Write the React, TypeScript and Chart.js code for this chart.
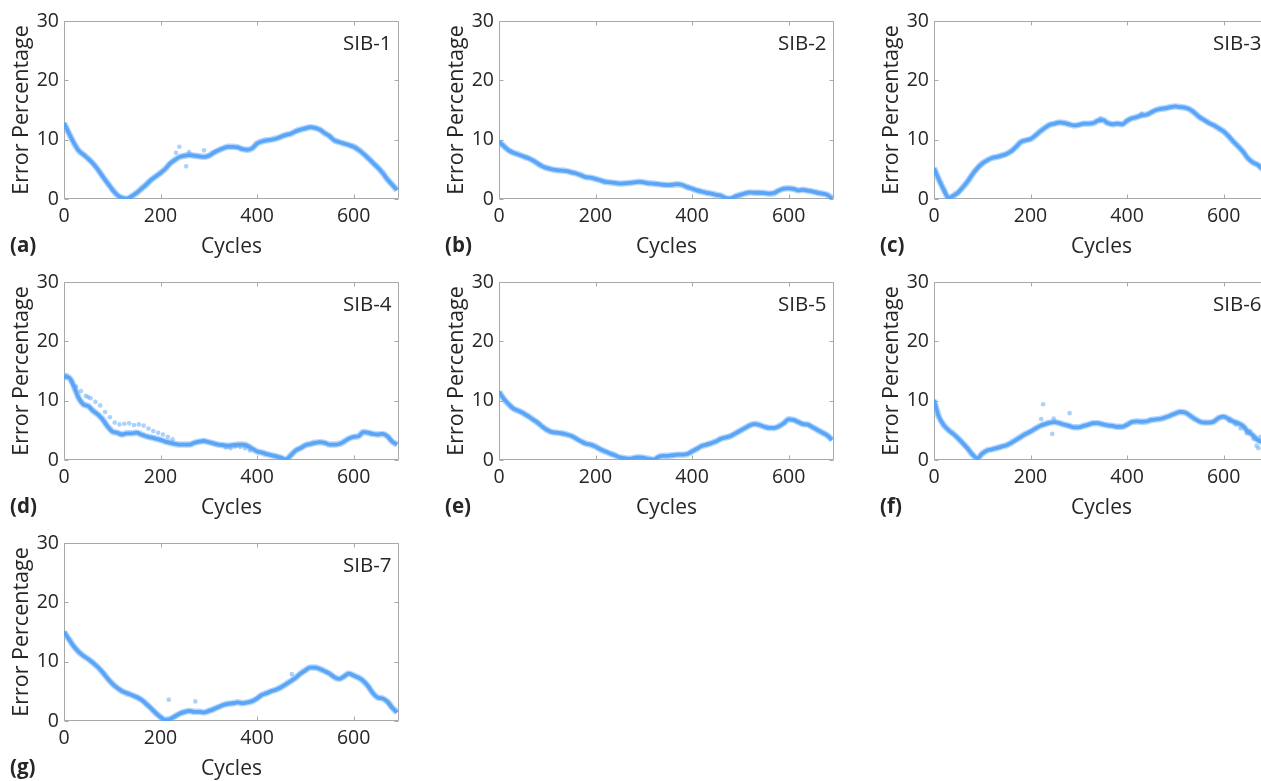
import React, { useEffect, useRef } from "react";
import { Chart, registerables } from "chart.js";

Chart.register(...registerables);

// ---- data ----
const CYCLES = [
  0, 10, 20, 30, 40, 50, 60, 70, 80, 90,
  100, 110, 120, 130, 140, 150, 160, 170, 180, 190,
  200, 210, 220, 230, 240, 250, 260, 270, 280, 290,
  300, 310, 320, 330, 340, 350, 360, 370, 380, 390,
  400, 410, 420, 430, 440, 450, 460, 470, 480, 490,
  500, 510, 520, 530, 540, 550, 560, 570, 580, 590,
  600, 610, 620, 630, 640, 650, 660, 670, 680, 690,
];

const SIB1 = [
  12.8, 11.1, 9.5, 8.2, 7.5, 6.8, 6.0, 5.0, 3.8, 2.7,
  1.6, 0.7, 0.2, 0.05, 0.45, 1.0, 1.7, 2.4, 3.2, 3.8,
  4.4, 5.1, 6.0, 6.6, 7.1, 7.3, 7.4, 7.3, 7.2, 7.1,
  7.3, 7.8, 8.2, 8.55, 8.8, 8.8, 8.7, 8.4, 8.3, 8.55,
  9.35, 9.7, 9.9, 10.0, 10.2, 10.5, 10.8, 11.0, 11.4, 11.7,
  11.9, 12.1, 12.0, 11.7, 11.1, 10.6, 9.9, 9.6, 9.35, 9.1,
  8.8, 8.3, 7.65, 6.9, 6.1, 5.3, 4.4, 3.3, 2.4, 1.5,
];
const SIB2 = [
  9.7, 8.9, 8.2, 7.8, 7.5, 7.2, 6.9, 6.5, 6.0, 5.5,
  5.2, 5.0, 4.85, 4.8, 4.7, 4.5, 4.3, 4.0, 3.7, 3.6,
  3.4, 3.15, 2.9, 2.8, 2.7, 2.6, 2.65, 2.7, 2.8, 2.9,
  2.8, 2.65, 2.6, 2.5, 2.4, 2.35, 2.4, 2.5, 2.35, 2.0,
  1.75, 1.45, 1.25, 1.05, 0.9, 0.7, 0.55, 0.15, 0.1, 0.45,
  0.7, 0.95, 1.1, 1.05, 1.05, 1.0, 0.9, 1.0, 1.45, 1.75,
  1.8, 1.7, 1.45, 1.55, 1.4, 1.25, 1.05, 0.9, 0.7, 0.1,
];
const SIB3 = [
  5.2, 3.3, 1.6, 0.2, 0.55, 1.1, 2.0, 3.0, 4.2, 5.2,
  6.0, 6.5, 6.9, 7.1, 7.3, 7.6, 8.05, 8.8, 9.6, 9.9,
  10.1, 10.7, 11.4, 12.0, 12.5, 12.7, 12.9, 12.8, 12.6, 12.4,
  12.5, 12.7, 12.7, 12.8, 13.2, 13.3, 12.8, 12.6, 12.7, 12.6,
  13.2, 13.6, 13.8, 14.1, 14.2, 14.6, 15.0, 15.2, 15.3, 15.5,
  15.6, 15.5, 15.4, 15.1, 14.5, 13.8, 13.3, 12.8, 12.4, 11.9,
  11.4, 10.6, 9.7, 8.9, 8.0, 6.9, 6.2, 5.8, 5.1, 4.4,
];
const SIB4 = [
  14.0, 13.9, 12.5, 10.5, 9.4, 9.1, 8.3, 7.7, 6.85, 5.7,
  4.8, 4.6, 4.3, 4.5, 4.5, 4.6, 4.3, 4.0, 3.8, 3.6,
  3.4, 3.1, 2.9, 2.7, 2.6, 2.6, 2.6, 2.9, 3.1, 3.2,
  3.0, 2.8, 2.6, 2.5, 2.4, 2.5, 2.6, 2.6, 2.4, 1.9,
  1.45, 1.25, 1.0, 0.8, 0.6, 0.35, 0.1, 0.8, 1.6, 2.0,
  2.5, 2.7, 2.9, 3.0, 2.9, 2.6, 2.6, 2.7, 3.1, 3.6,
  3.9, 4.0, 4.7, 4.6, 4.4, 4.3, 4.4, 4.0, 3.1, 2.6,
];
const SIB5 = [
  11.5, 10.3, 9.4, 8.65, 8.3, 7.9, 7.4, 6.85, 6.3, 5.6,
  5.05, 4.7, 4.6, 4.5, 4.3, 4.05, 3.6, 3.15, 2.75, 2.6,
  2.25, 1.8, 1.45, 1.1, 0.8, 0.45, 0.3, 0.2, 0.35, 0.45,
  0.35, 0.2, 0.05, 0.5, 0.7, 0.7, 0.8, 0.9, 0.9, 1.0,
  1.45, 1.9, 2.35, 2.6, 2.85, 3.15, 3.6, 3.8, 4.05, 4.5,
  4.95, 5.4, 5.85, 6.05, 5.9, 5.6, 5.4, 5.4, 5.7, 6.2,
  6.85, 6.75, 6.4, 6.05, 5.95, 5.5, 5.05, 4.6, 4.15, 3.4,
];
const SIB6 = [
  10.1, 7.3, 5.9, 5.05, 4.4, 3.65, 2.8, 1.9, 0.9, 0.3,
  1.1, 1.6, 1.8, 2.0, 2.25, 2.5, 2.9, 3.4, 3.9, 4.4,
  4.8, 5.3, 5.75, 6.05, 6.3, 6.4, 6.2, 5.95, 5.75, 5.5,
  5.5, 5.75, 5.95, 6.2, 6.2, 6.0, 5.85, 5.75, 5.6, 5.6,
  5.95, 6.4, 6.5, 6.45, 6.5, 6.75, 6.85, 6.95, 7.2, 7.5,
  7.85, 8.1, 8.0, 7.5, 6.95, 6.5, 6.3, 6.3, 6.5, 7.1,
  7.3, 6.95, 6.5, 6.2, 5.75, 4.8, 4.2, 3.4, 3.0, 2.6,
];
const SIB7 = [
  15.05, 13.8, 12.6, 11.7, 11.0, 10.45, 9.8, 9.1, 8.2, 7.2,
  6.3, 5.6, 5.05, 4.7, 4.4, 4.05, 3.6, 2.9, 2.15, 1.35,
  0.65, 0.2, 0.35, 0.8, 1.25, 1.55, 1.7, 1.55, 1.55, 1.45,
  1.7, 2.0, 2.35, 2.7, 2.9, 3.0, 3.15, 3.0, 3.15, 3.35,
  3.8, 4.4, 4.7, 5.05, 5.3, 5.7, 6.2, 6.75, 7.3, 8.0,
  8.55, 9.0, 9.0, 8.75, 8.4, 8.0, 7.4, 7.1, 7.5, 8.0,
  7.65, 7.3, 6.75, 5.85, 4.7, 3.95, 3.8, 3.25, 2.25, 1.45,
];

// scattered / outlying points
const SIB1_OUT_X = [232, 239, 253, 259, 290];
const SIB1_OUT_Y = [7.8, 8.8, 5.5, 7.9, 8.2];
const SIB2_OUT_X: number[] = [];
const SIB2_OUT_Y: number[] = [];
const SIB3_OUT_X = [345, 430];
const SIB3_OUT_Y = [13.6, 14.4];
const SIB4_OUT_X = [
  5, 15, 25, 35, 45, 50, 55, 65, 75, 85, 95, 105, 115, 125, 135, 145, 155, 165,
  175, 185, 195, 205, 215, 225, 335, 345, 355, 365, 375, 385,
];
const SIB4_OUT_Y = [
  14.3, 13.4, 12.4, 11.6, 10.8, 10.6, 10.4, 9.8, 9.2, 8.1, 7.2, 6.3, 6.0, 6.1,
  6.2, 5.9, 6.0, 5.8, 5.3, 4.9, 4.6, 4.3, 3.9, 3.5, 2.1, 2.0, 2.3, 2.2, 2.0, 1.6,
];
const SIB5_OUT_X: number[] = [];
const SIB5_OUT_Y: number[] = [];
const SIB6_OUT_X = [222, 226, 245, 248, 281, 612, 625, 635, 648, 655, 662, 668, 672, 676, 684];
const SIB6_OUT_Y = [6.9, 9.4, 4.4, 7.0, 7.9, 6.6, 6.0, 5.3, 4.5, 4.9, 3.6, 2.4, 2.0, 3.9, 4.3];
const SIB7_OUT_X = [217, 272, 472];
const SIB7_OUT_Y = [3.6, 3.3, 7.9];

const NAMES = ["SIB-1", "SIB-2", "SIB-3", "SIB-4", "SIB-5", "SIB-6", "SIB-7"];
const LETTERS = ["(a)", "(b)", "(c)", "(d)", "(e)", "(f)", "(g)"];
const X_TICKS = [0, 200, 400, 600];
const Y_TICKS = [0, 10, 20, 30];
const X_MAX = 694;
const Y_MAX = 30;

const SERIES = [SIB1, SIB2, SIB3, SIB4, SIB5, SIB6, SIB7];
const OUT_X = [SIB1_OUT_X, SIB2_OUT_X, SIB3_OUT_X, SIB4_OUT_X, SIB5_OUT_X, SIB6_OUT_X, SIB7_OUT_X];
const OUT_Y = [SIB1_OUT_Y, SIB2_OUT_Y, SIB3_OUT_Y, SIB4_OUT_Y, SIB5_OUT_Y, SIB6_OUT_Y, SIB7_OUT_Y];

// ---- layout ----
const FONT = "'Open Sans', 'Noto Sans', sans-serif";
const TEXT = "#262626";
const AXIS = "#a9a9a9";
const CANVAS_W = 411;
const CANVAS_H = 261;
const COL_X = [0, 435, 870];
const ROW_Y = [0, 261, 522];

const boxPlugin = {
  id: "matlabBox",
  beforeDatasetsDraw(chart: any) {
    const { ctx, chartArea, scales } = chart;
    const l = Math.round(chartArea.left) + 0.5;
    const r = Math.round(chartArea.right) - 0.5;
    const t = Math.round(chartArea.top) + 0.5;
    const b = Math.round(chartArea.bottom) - 0.5;
    ctx.save();
    ctx.strokeStyle = AXIS;
    ctx.lineWidth = 1;
    ctx.beginPath();
    ctx.rect(l, t, r - l, b - t);
    const tl = 4;
    X_TICKS.forEach((v) => {
      const x = Math.round(scales.x.getPixelForValue(v)) + 0.5;
      ctx.moveTo(x, b);
      ctx.lineTo(x, b - tl);
      ctx.moveTo(x, t);
      ctx.lineTo(x, t + tl);
    });
    Y_TICKS.forEach((v) => {
      const y = Math.round(scales.y.getPixelForValue(v)) + 0.5;
      ctx.moveTo(l, y);
      ctx.lineTo(l + tl, y);
      ctx.moveTo(r, y);
      ctx.lineTo(r - tl, y);
    });
    ctx.stroke();
    ctx.restore();
  },
  afterDraw(chart: any, _args: any, opts: any) {
    const { ctx, chartArea } = chart;
    ctx.save();
    ctx.fillStyle = TEXT;
    ctx.textBaseline = "alphabetic";
    ctx.textAlign = "left";
    ctx.font = `20.5px ${FONT}`;
    ctx.fillText(opts.name, chartArea.left + 279, chartArea.top + 28.5);
    ctx.font = `bold 20.5px ${FONT}`;
    ctx.fillText(opts.letter, 10, 252);
    ctx.restore();
  },
};

function Panel({ idx }: { idx: number }) {
  const ref = useRef<HTMLCanvasElement | null>(null);
  useEffect(() => {
    if (!ref.current) return;
    const values = SERIES[idx];
    const mainData = CYCLES.map((c, i) => ({ x: c, y: values[i] }));
    const outData = OUT_X[idx].map((c, i) => ({ x: c, y: OUT_Y[idx][i] }));
    const chart = new Chart(ref.current, {
      type: "scatter",
      data: {
        datasets: [
          {
            data: outData,
            showLine: false,
            pointRadius: 2.3,
            pointBorderWidth: 0,
            pointBackgroundColor: "rgba(90,164,248,0.5)",
          },
          {
            data: mainData,
            showLine: true,
            borderColor: "rgba(110,176,250,0.5)",
            borderWidth: 6.5,
            pointRadius: 0,
            cubicInterpolationMode: "monotone",
          },
          {
            data: mainData,
            showLine: true,
            borderColor: "rgba(58,147,244,0.92)",
            borderWidth: 3.8,
            pointRadius: 0,
            cubicInterpolationMode: "monotone",
          },
        ],
      } as any,
      options: {
        responsive: false,
        animation: false,
        devicePixelRatio: 1,
        events: [],
        layout: { padding: { top: 21, right: 12, left: 0, bottom: 0 } },
        plugins: {
          legend: { display: false },
          tooltip: { enabled: false },
          matlabBox: { name: NAMES[idx], letter: LETTERS[idx] },
        } as any,
        scales: {
          x: {
            type: "linear",
            min: 0,
            max: X_MAX,
            afterBuildTicks: (s: any) => {
              s.ticks = X_TICKS.map((v) => ({ value: v }));
            },
            afterFit: (s: any) => {
              s.height = 62;
            },
            grid: { display: false, drawTicks: false },
            border: { display: false },
            ticks: {
              autoSkip: false,
              maxRotation: 0,
              padding: 6,
              color: TEXT,
              font: { family: FONT, size: 19.5 },
            },
            title: {
              display: true,
              text: "Cycles",
              color: TEXT,
              font: { family: FONT, size: 21 },
              padding: { top: 0, bottom: 1 },
            },
          },
          y: {
            type: "linear",
            min: 0,
            max: Y_MAX,
            afterBuildTicks: (s: any) => {
              s.ticks = Y_TICKS.map((v) => ({ value: v }));
            },
            afterFit: (s: any) => {
              s.width = 64;
            },
            grid: { display: false, drawTicks: false },
            border: { display: false },
            ticks: {
              autoSkip: false,
              padding: 5,
              color: TEXT,
              font: { family: FONT, size: 19.5 },
            },
            title: {
              display: true,
              text: "Error Percentage",
              color: TEXT,
              font: { family: FONT, size: 21.5 },
              padding: { top: 9, bottom: 0 },
            },
          },
        },
      } as any,
      plugins: [boxPlugin as any],
    });
    return () => chart.destroy();
  }, [idx]);
  const col = idx % 3;
  const row = Math.floor(idx / 3);
  return (
    <canvas
      ref={ref}
      width={CANVAS_W}
      height={CANVAS_H}
      style={{
        position: "absolute",
        left: COL_X[col],
        top: ROW_Y[row],
        width: CANVAS_W,
        height: CANVAS_H,
      }}
    />
  );
}

export default function App() {
  return (
    <div
      style={{
        position: "fixed",
        left: 0,
        top: 0,
        width: 1261,
        height: 781,
        overflow: "hidden",
        background: "#ffffff",
      }}
    >
      {NAMES.map((_, i) => (
        <Panel key={i} idx={i} />
      ))}
    </div>
  );
}
